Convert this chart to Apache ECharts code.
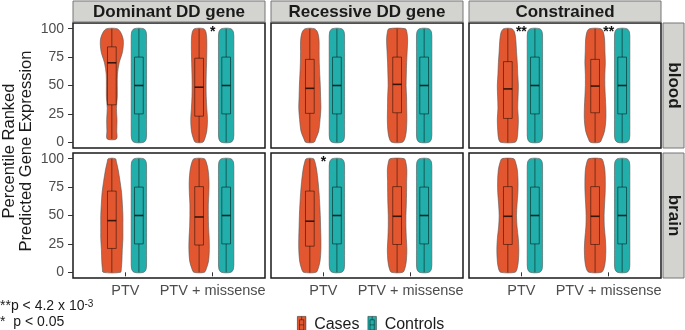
<!doctype html>
<html>
<head>
<meta charset="utf-8">
<title>Predicted gene expression</title>
<script src="https://cdn.jsdelivr.net/npm/echarts@6.0.0/dist/echarts.min.js"></script>
</head>
<body style="margin:0;padding:0;background:#fff">
<div id="tb" style="width:685px;height:330px;"></div>
<script>
// facets
var tissues = ['blood', 'brain'];
var geneSets = ['Dominant DD gene', 'Recessive DD gene', 'Constrained'];
var variantTypes = ['PTV', 'PTV + missense'];
var yTicks = [0, 25, 50, 75, 100];

// violin density (relative to a flat distribution = 1) read at these percentiles
var densityLevels = [0, 3, 10, 20, 30, 40, 50, 60, 70, 80, 90, 97, 100];
// rows: Dominant PTV, Dominant PTV+m, Recessive PTV, Recessive PTV+m, Constrained PTV, Constrained PTV+m
var bloodCaseDensity = [
  [0.60, 0.60, 0.64, 0.67, 0.60, 0.71, 0.71, 0.73, 0.96, 1.40, 1.49, 1.13, 0.67],
  [0.47, 0.73, 1.00, 1.09, 1.00, 0.93, 0.91, 0.93, 0.97, 1.00, 1.00, 0.89, 0.60],
  [0.53, 0.77, 1.16, 1.33, 1.44, 1.40, 1.36, 1.29, 1.23, 1.21, 1.20, 1.00, 0.60],
  [0.67, 1.00, 1.20, 1.27, 1.25, 1.23, 1.17, 1.20, 1.24, 1.31, 1.37, 1.27, 1.07],
  [0.93, 1.20, 1.31, 1.37, 1.29, 1.33, 1.37, 1.29, 1.23, 1.13, 1.04, 0.87, 0.53],
  [0.60, 0.87, 1.23, 1.40, 1.40, 1.33, 1.27, 1.27, 1.33, 1.28, 1.24, 1.07, 0.73]
];
var brainCaseDensity = [
  [1.13, 1.23, 1.31, 1.36, 1.44, 1.44, 1.44, 1.37, 1.27, 1.07, 0.83, 0.60, 0.47],
  [0.67, 0.93, 1.23, 1.33, 1.31, 1.23, 1.20, 1.20, 1.27, 1.29, 1.17, 0.93, 0.67],
  [0.80, 1.07, 1.33, 1.44, 1.44, 1.40, 1.36, 1.29, 1.20, 1.07, 0.89, 0.67, 0.47],
  [0.73, 1.00, 1.20, 1.27, 1.20, 1.15, 1.15, 1.20, 1.23, 1.24, 1.27, 1.13, 0.93],
  [0.93, 1.20, 1.37, 1.43, 1.36, 1.20, 1.13, 1.20, 1.31, 1.33, 1.24, 1.00, 0.77],
  [0.80, 1.13, 1.33, 1.40, 1.33, 1.20, 1.17, 1.23, 1.31, 1.33, 1.27, 1.07, 0.84]
];
var controlDensity = [0.62, 0.95, 1, 1, 1, 1, 1, 1, 1, 1, 1, 0.95, 0.62];

// box stats [min, q1, median, q3, max]
var bloodCaseBox = [[3, 33, 70, 84, 100], [0, 23, 48.5, 74, 100], [0, 25.5, 47.5, 73, 100],
                    [0, 26, 51, 75, 100], [0, 21, 47, 71, 100], [0, 26, 49.5, 73, 100]];
var brainCaseBox = [[0, 21, 45.5, 71.5, 100], [0, 24, 48.7, 75.4, 100], [0, 23, 45, 71.5, 100],
                    [0, 24.5, 49.3, 75.4, 100], [0, 24.5, 49.3, 75.4, 100], [0, 24.5, 49.3, 75.4, 100]];
var controlBox = [0, 25, 50, 75, 100];

// significance marks
var bloodStars = ['', '*', '', '', '**', '**'];
var brainStars = ['', '', '*', '', '', ''];

var caseColor = '#E2572F';
var controlColor = '#22AEAA';
var FONT = 'Liberation Sans, Arial, sans-serif';

var VIOLIN_HALF = 0.088;   // x units per density unit
var BOX_HALF = 0.05;
var DODGE = 0.155;

var gridLeft = [73, 271, 469];
var gridTop = [23, 153];
var gridW = 192, gridH = 125;

function densAt(dens, y) {
  for (var i = 1; i < densityLevels.length; i++) {
    if (y <= densityLevels[i]) {
      var a = densityLevels[i - 1], b = densityLevels[i];
      var t = (y - a) / (b - a);
      return dens[i - 1] + (dens[i] - dens[i - 1]) * t;
    }
  }
  return dens[dens.length - 1];
}

function makeRender(densRows, offset, color, stars) {
  return function (params, api) {
    var row = api.value(6);
    var dens = densRows ? densRows[row] : controlDensity;
    var cat = api.value(0);
    var lo = api.value(1), q1 = api.value(2), med = api.value(3), q3 = api.value(4), hi = api.value(5);
    var cx = cat + offset;
    var ys = [lo];
    densityLevels.forEach(function (y) { if (y > lo && y < hi) ys.push(y); });
    ys.push(hi);
    var left = [], right = [];
    ys.forEach(function (y) {
      var w = densAt(dens, y) * VIOLIN_HALF;
      left.push(api.coord([cx - w, y]));
      right.push(api.coord([cx + w, y]));
    });
    var pts = left.concat(right.reverse());
    var a = api.coord([cx - BOX_HALF, q3]);
    var b = api.coord([cx + BOX_HALF, q1]);
    var m1 = api.coord([cx - BOX_HALF, med]);
    var m2 = api.coord([cx + BOX_HALF, med]);
    var w1 = api.coord([cx, lo]), w2 = api.coord([cx, hi]);
    var children = [
      { type: 'polygon', shape: { points: pts, smooth: 0.3 },
        style: { fill: color, stroke: '#555', lineWidth: 0.6 } },
      { type: 'line', shape: { x1: w1[0], y1: w1[1], x2: w2[0], y2: w2[1] },
        style: { stroke: 'rgba(0,0,0,0.6)', lineWidth: 0.8 } },
      { type: 'rect', shape: { x: a[0], y: a[1], width: b[0] - a[0], height: b[1] - a[1] },
        style: { fill: color, stroke: 'rgba(0,0,0,0.6)', lineWidth: 0.8 } },
      { type: 'line', shape: { x1: m1[0], y1: m1[1], x2: m2[0], y2: m2[1] },
        style: { stroke: 'rgba(0,0,0,0.75)', lineWidth: 1.6 } }
    ];
    if (stars && stars[row]) {
      var s = api.coord([cat, 103]);
      children.push({ type: 'text', x: s[0], y: s[1],
        style: { text: stars[row], fill: '#111', font: 'bold 14px ' + FONT,
                 align: 'center', verticalAlign: 'top' } });
    }
    return { type: 'group', children: children };
  };
}

var grids = [], xAxes = [], yAxes = [], series = [], graphics = [];
tissues.forEach(function (tissue, t) {
  geneSets.forEach(function (gs, g) {
    var gi = t * 3 + g;
    grids.push({ left: gridLeft[g], top: gridTop[t], width: gridW, height: gridH,
      show: true, borderColor: '#1a1a1a', borderWidth: 1.5, backgroundColor: '#fff' });
    var bottom = t === 1;
    xAxes.push({ type: 'value', gridIndex: gi, min: 0.4, max: 2.6,
      axisLine: { show: false }, splitLine: { show: false },
      axisTick: { show: bottom, length: 4, lineStyle: { color: '#333' }, customValues: [1, 2] },
      axisLabel: { show: bottom, customValues: [1, 2], margin: 5, fontSize: 14.5, color: '#4D4D4D',
        fontFamily: FONT, formatter: function (v) { return variantTypes[Math.round(v) - 1] || ''; } } });
    var leftCol = g === 0;
    yAxes.push({ type: 'value', gridIndex: gi, min: -5, max: 105,
      axisLine: { show: false }, splitLine: { show: false },
      axisTick: { show: leftCol, length: 5, lineStyle: { color: '#333' }, customValues: yTicks },
      axisLabel: { show: leftCol, customValues: yTicks, margin: 9, fontSize: 14, color: '#4D4D4D', fontFamily: FONT } });
    var caseBox = t === 0 ? bloodCaseBox : brainCaseBox;
    var caseDens = t === 0 ? bloodCaseDensity : brainCaseDensity;
    var stars = t === 0 ? bloodStars : brainStars;
    series.push({ name: 'Cases', type: 'custom', xAxisIndex: gi, yAxisIndex: gi,
      itemStyle: { color: caseColor },
      encode: { x: 0, y: [1, 2, 3, 4, 5] },
      data: variantTypes.map(function (v, k) { return [k + 1].concat(caseBox[g * 2 + k], [g * 2 + k]); }),
      renderItem: makeRender(caseDens, -DODGE, caseColor, stars) });
    series.push({ name: 'Controls', type: 'custom', xAxisIndex: gi, yAxisIndex: gi,
      itemStyle: { color: controlColor },
      encode: { x: 0, y: [1, 2, 3, 4, 5] },
      data: variantTypes.map(function (v, k) { return [k + 1].concat(controlBox, [g * 2 + k]); }),
      renderItem: makeRender(null, DODGE, controlColor, null) });
  });
  // right strip
  graphics.push({ type: 'rect', shape: { x: 663, y: gridTop[t], width: 21, height: gridH },
    style: { fill: '#D3D3CF', stroke: '#777', lineWidth: 1 } });
  graphics.push({ type: 'text', x: 673.5, y: gridTop[t] + gridH / 2, rotation: -Math.PI / 2,
    style: { text: tissue, font: 'bold 17px ' + FONT, fill: '#1a1a1a', align: 'center', verticalAlign: 'middle' } });
});
geneSets.forEach(function (gs, g) {
  graphics.push({ type: 'rect', shape: { x: gridLeft[g], y: 1, width: gridW, height: 21 },
    style: { fill: '#D3D3CF', stroke: '#777', lineWidth: 1 } });
  graphics.push({ type: 'text', x: gridLeft[g] + gridW / 2, y: 12,
    style: { text: gs, font: 'bold 17px ' + FONT, fill: '#1a1a1a', align: 'center', verticalAlign: 'middle' } });
});
// y axis title
graphics.push({ type: 'text', x: 18, y: 151, rotation: Math.PI / 2,
  style: { text: 'Percentile Ranked\nPredicted Gene Expression', font: '16.5px ' + FONT, lineHeight: 17,
           fill: '#1a1a1a', align: 'center', verticalAlign: 'middle' } });
// footnote
graphics.push({ type: 'text', x: 0, y: 306,
  style: { text: '**p < 4.2 x 10{sup|-3}', font: '14px ' + FONT, fill: '#1a1a1a', verticalAlign: 'middle',
           rich: { sup: { fontSize: 10, verticalAlign: 'top', fontFamily: FONT } } } });
graphics.push({ type: 'text', x: 0, y: 322,
  style: { text: '*  p < 0.05', font: '14px ' + FONT, fill: '#1a1a1a', verticalAlign: 'middle' } });

var chart = echarts.init(document.getElementById('tb'));
chart.setOption({
  animation: false,
  textStyle: { fontFamily: FONT },
  grid: grids,
  xAxis: xAxes,
  yAxis: yAxes,
  legend: {
    data: ['Cases', 'Controls'], left: 292, top: 311, itemWidth: 9, itemHeight: 17, itemGap: 8,
    icon: 'path://M0,0H10V20H0Z M2.5,4H7.5V16H2.5Z M2.5,10H7.5 M5,0V4 M5,16V20',
    itemStyle: { borderColor: 'rgba(0,0,0,0.55)', borderWidth: 0.8 },
    textStyle: { fontSize: 16, color: '#1a1a1a', fontFamily: FONT, padding: [0, 0, 0, 3] },
    selectedMode: false
  },
  graphic: graphics,
  series: series
});
</script>
</body>
</html>
